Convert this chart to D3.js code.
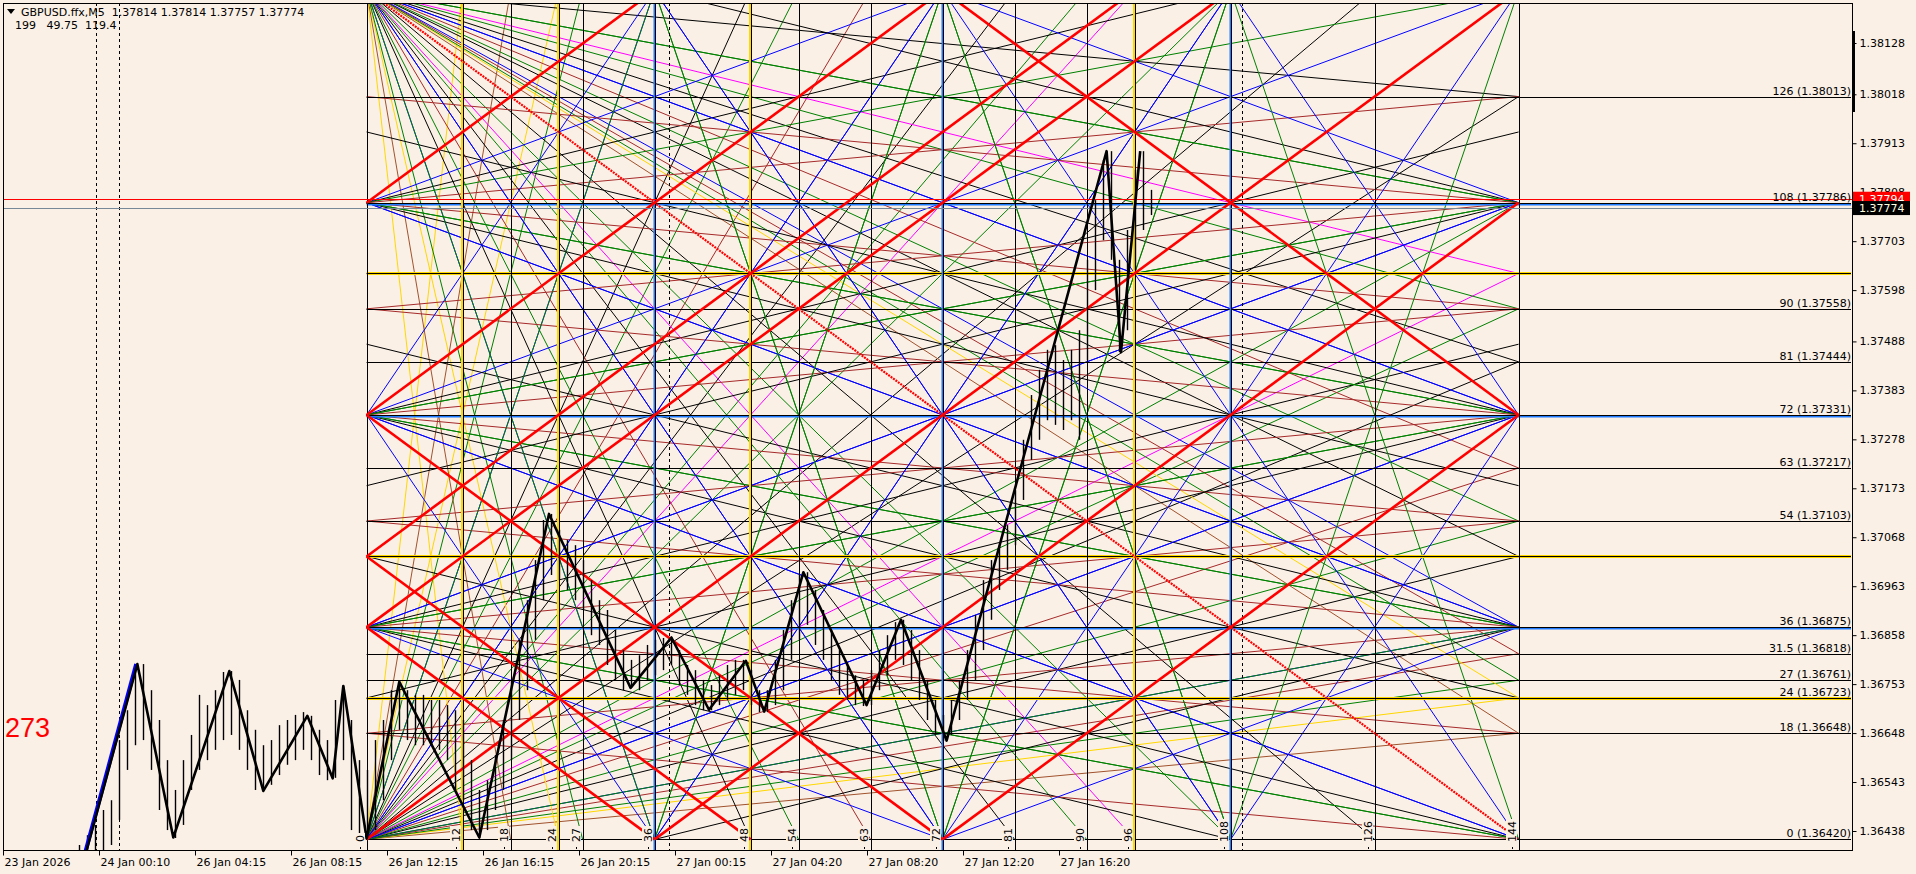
<!DOCTYPE html>
<html>
<head>
<meta charset="utf-8">
<script src="https://cdn.jsdelivr.net/npm/d3@7"></script>
<style>
  body { margin: 0; background: #faf0e6; }
  svg { display: block; font-family: "DejaVu Sans", sans-serif; }
</style>
</head>
<body>
<svg id="chart" width="1916" height="874"></svg>
<script>
// ---- header texts
const symbolInfo = "GBPUSD.ffx,M5  1.37814 1.37814 1.37757 1.37774";
const indicatorInfo = "199   49.75  119.4";
const cornerCount = "273";

// ---- price axis
const priceTicks = [1.38128, 1.38018, 1.37913, 1.37808, 1.37703, 1.37598, 1.37488, 1.37383,
  1.37278, 1.37173, 1.37068, 1.36963, 1.36858, 1.36753, 1.36648, 1.36543, 1.36438];
const askPrice = 1.37794, bidPrice = 1.37774;

// ---- time axis (x unit = one gann step = 4 bars of M5)
const timeTickPos = [-45.45, -33.45, -21.45, -9.45, 2.55, 14.55, 26.55, 38.55, 50.55, 62.55, 74.55, 86.55];
const timeTickLabels = ["23 Jan 2026", "24 Jan 00:10", "26 Jan 04:15", "26 Jan 08:15", "26 Jan 12:15",
  "26 Jan 16:15", "26 Jan 20:15", "27 Jan 00:15", "27 Jan 04:20", "27 Jan 08:20", "27 Jan 12:20", "27 Jan 16:20"];
const separatorTimes = [-33.8, -30.95, 37.8, 109.4];

// ---- gann square
const gannBase = 1.36420, gannStep = 0.000126431;
const gannLevels = [0, 18, 24, 27, 31.5, 36, 48, 54, 63, 72, 81, 90, 96, 108, 126, 144];
const labelledLevels = [0, 18, 24, 27, 31.5, 36, 54, 63, 72, 81, 90, 108, 126];
const labelledPrices = [1.36420, 1.36648, 1.36723, 1.36761, 1.36818, 1.36875, 1.37103, 1.37217,
  1.37331, 1.37444, 1.37558, 1.37786, 1.38013];
const gannTimes = [0, 12, 18, 24, 27, 36, 48, 54, 63, 72, 81, 90, 96, 108, 126, 144];
const yellowMarks = [12, 24, 48, 96];
const blueMarks = [36, 72, 108];

// 1x1 angles: level - time = c (rising) and level + time = c (falling)
const redRising = [108, 72, 48, 36, 0, -36, -72];
const redFalling = [36, 48, 72, 216];
const mainDiagonal = 144;

// fans
const denseFanOrigins = [[0, 0], [0, 144]];
const sideFanLevels = [36, 72, 108];
const rightFanLevels = [0, 36, 72, 108];
const edgeFanTimes = [36, 72, 108];
const shallowRatios = [1 / 2, 1 / 3, 1 / 4, 1 / 8];
const steepRatios = [2, 4];

// ---- price bars, one per gann step, first slot at t = -36
const barFirst = -36;
const barHigh = [1.36408, 1.36429, 1.36451, 1.36483, 1.36504, 1.36633, 1.36697, 1.36794, 1.36796, 1.36740,
  1.36676, 1.36590, 1.36526, 1.36590, 1.36644, 1.36730, 1.36708, 1.36740, 1.36779, 1.36781,
  1.36762, 1.36697, 1.36655, 1.36622, 1.36633, 1.36665, 1.36676, 1.36687, 1.36693, 1.36685,
  1.36655, 1.36633, 1.36719, 1.36749, 1.36676, 1.36590, 1.36569, 1.36633, 1.36676, 1.36740,
  1.36758, 1.36740, 1.36730, 1.36730, 1.36719, 1.36719, 1.36708, 1.36697, 1.36676, 1.36590,
  1.36526, 1.36547, 1.36601, 1.36676, 1.36762, 1.36848, 1.36933, 1.37019, 1.37105, 1.37118,
  1.37084, 1.37062, 1.37051, 1.37019, 1.36976, 1.36933, 1.36912, 1.36869, 1.36826, 1.36805,
  1.36815, 1.36837, 1.36848, 1.36852, 1.36854, 1.36826, 1.36794, 1.36783, 1.36762, 1.36751,
  1.36772, 1.36794, 1.36805, 1.36805, 1.36783, 1.36740, 1.36740, 1.36805, 1.36869, 1.36933,
  1.36987, 1.36993, 1.36955, 1.36912, 1.36869, 1.36826, 1.36794, 1.36772, 1.36762, 1.36783,
  1.36826, 1.36858, 1.36886, 1.36891, 1.36869, 1.36826, 1.36762, 1.36719, 1.36687, 1.36719,
  1.36762, 1.36826, 1.36901, 1.36976, 1.37019, 1.37051, 1.37094, 1.37169, 1.37277, 1.37373,
  1.37427, 1.37470, 1.37480, 1.37448, 1.37470, 1.37512, 1.37663, 1.37791, 1.37877, 1.37896,
  1.37663, 1.37727, 1.37856, 1.37896, 1.37813];
const barLow = [1.36354, 1.36354, 1.36386, 1.36397, 1.36408, 1.36462, 1.36569, 1.36622, 1.36633, 1.36569,
  1.36483, 1.36440, 1.36423, 1.36451, 1.36526, 1.36569, 1.36590, 1.36612, 1.36633, 1.36644,
  1.36612, 1.36569, 1.36526, 1.36524, 1.36537, 1.36558, 1.36580, 1.36590, 1.36612, 1.36590,
  1.36558, 1.36547, 1.36552, 1.36590, 1.36440, 1.36419, 1.36423, 1.36440, 1.36504, 1.36590,
  1.36655, 1.36633, 1.36622, 1.36622, 1.36622, 1.36612, 1.36590, 1.36526, 1.36504, 1.36440,
  1.36423, 1.36440, 1.36483, 1.36526, 1.36590, 1.36676, 1.36740, 1.36848, 1.36933, 1.36987,
  1.36976, 1.36955, 1.36933, 1.36912, 1.36858, 1.36837, 1.36794, 1.36762, 1.36740, 1.36745,
  1.36740, 1.36762, 1.36772, 1.36783, 1.36794, 1.36751, 1.36730, 1.36708, 1.36697, 1.36697,
  1.36708, 1.36719, 1.36730, 1.36740, 1.36708, 1.36693, 1.36693, 1.36708, 1.36740, 1.36805,
  1.36848, 1.36880, 1.36837, 1.36805, 1.36762, 1.36730, 1.36719, 1.36708, 1.36706, 1.36708,
  1.36740, 1.36772, 1.36805, 1.36794, 1.36762, 1.36719, 1.36676, 1.36644, 1.36631, 1.36644,
  1.36676, 1.36719, 1.36762, 1.36826, 1.36891, 1.36955, 1.36998, 1.37051, 1.37148, 1.37234,
  1.37277, 1.37319, 1.37309, 1.37298, 1.37319, 1.37277, 1.37448, 1.37598, 1.37705, 1.37663,
  1.37465, 1.37512, 1.37641, 1.37727, 1.37759];

// zigzag swing points [time, price]
const zigzag = [[-35.8, 1.36346], [-28.66, 1.36796], [-24.16, 1.36424], [-17.16, 1.36781], [-12.91, 1.36524],
  [-7.41, 1.36685], [-4.24, 1.36551], [-2.91, 1.36749], [0, 1.36422], [4.09, 1.36758], [14.09, 1.36424],
  [22.8, 1.37118], [33.0, 1.36745], [38.1, 1.36853], [42.8, 1.36698], [47.4, 1.36803], [49.7, 1.36694],
  [54.6, 1.36993], [62.5, 1.36708], [66.8, 1.36891], [72.5, 1.36632], [92.5, 1.37896], [94.3, 1.37465],
  [96.7, 1.37896]];
const zigzagBlue = [[-35.9, 1.36346], [-28.8, 1.36796]];

// ---- styles
const C = { bg: "#faf0e6", red: "#ff0000", blue: "#0000ff", gold: "#ffd700", green: "#008000",
  sienna: "#a0522d", brown: "#a52a2a", magenta: "#ff00ff", black: "#000000" };
const denseColor = { 12: C.gold, 18: C.sienna, 24: C.gold, 27: C.green, 31.5: C.brown, 36: C.blue,
  48: C.black, 54: C.green, 63: C.brown, 72: C.blue, 81: C.black, 90: C.green, 96: C.magenta,
  108: C.green, 126: C.black };
const shallowColor = [C.blue, C.black, C.green, C.brown];
const steepColor = [C.blue, C.green];

const svg = d3.select("#chart");
const plot = { left: 3, top: 3, right: 1852, bottom: 850 };

const x = d3.scaleLinear().domain([0, 144]).range([366.6, 1518.6]);
const y = d3.scaleLinear().domain([1.36438, 1.38128]).range([831, 43]);
const ly = L => y(gannBase + L * gannStep);

svg.append("rect").attr("width", 1916).attr("height", 874).attr("fill", C.bg);
svg.append("clipPath").attr("id", "plotClip").append("rect")
  .attr("x", plot.left).attr("y", plot.top)
  .attr("width", plot.right - plot.left).attr("height", plot.bottom - plot.top);

const g = svg.append("g").attr("clip-path", "url(#plotClip)");

// ---- build fan segments in gann units
function rayEnd(t0, L0, dt, dL) {
  let s = Infinity;
  if (dt > 0) s = Math.min(s, (144 - t0) / dt);
  if (dt < 0) s = Math.min(s, -t0 / dt);
  if (dL > 0) s = Math.min(s, (144 - L0) / dL);
  if (dL < 0) s = Math.min(s, -L0 / dL);
  return [t0 + s * dt, L0 + s * dL];
}

const thin = [];
denseFanOrigins.forEach(([t0, L0]) => {
  const lOther = 144 - L0;
  gannLevels.filter(v => v > 0 && v < 144).forEach(v => {
    thin.push({ a: [t0, L0], b: [144, v], c: denseColor[v] });
  });
  gannTimes.filter(v => v > 0 && v < 144).forEach(v => {
    thin.push({ a: [t0, L0], b: [v, lOther], c: denseColor[v] });
  });
});
sideFanLevels.forEach(L0 => {
  shallowRatios.forEach((r, i) => {
    [1, -1].forEach(sg => thin.push({ a: [0, L0], b: rayEnd(0, L0, 1, sg * r), c: shallowColor[i] }));
  });
});
rightFanLevels.forEach(L0 => {
  shallowRatios.forEach((r, i) => {
    [1, -1].forEach(sg => {
      const b = rayEnd(144, L0, -1, sg * r);
      if (b[0] < 144) thin.push({ a: [144, L0], b, c: shallowColor[i] });
    });
  });
});
[[0, 1], [144, -1]].forEach(([L0, dir]) => {
  edgeFanTimes.forEach(t0 => {
    steepRatios.forEach((r, i) => {
      [1, -1].forEach(sg => thin.push({ a: [t0, L0], b: rayEnd(t0, L0, sg, dir * r), c: steepColor[i] }));
    });
  });
});

g.append("g").selectAll("line").data(thin).join("line")
  .attr("x1", d => x(d.a[0])).attr("y1", d => ly(d.a[1]))
  .attr("x2", d => x(d.b[0])).attr("y2", d => ly(d.b[1]))
  .attr("stroke", d => d.c).attr("stroke-width", 1);

// ---- horizontal gann levels
const hl = g.append("g");
gannLevels.forEach(L => {
  const yy = Math.round(ly(L)) + 0.5;
  if (yellowMarks.includes(L)) {
    hl.append("line").attr("x1", x(0)).attr("x2", plot.right - 1).attr("y1", yy).attr("y2", yy)
      .attr("stroke", C.gold).attr("stroke-width", 3);
  } else if (blueMarks.includes(L)) {
    hl.append("line").attr("x1", x(0)).attr("x2", plot.right - 1).attr("y1", yy + 1).attr("y2", yy + 1)
      .attr("stroke", "#1e7bff").attr("stroke-width", 2);
  }
  hl.append("line").attr("x1", x(0)).attr("x2", plot.right - 1).attr("y1", yy).attr("y2", yy)
    .attr("stroke", C.black).attr("stroke-width", 1);
});

// ---- vertical gann times
const vl = g.append("g");
gannTimes.forEach(t => {
  const xx = Math.round(x(t)) + 0.5;
  if (yellowMarks.includes(t)) {
    vl.append("line").attr("x1", xx - 1).attr("x2", xx - 1).attr("y1", plot.top).attr("y2", plot.bottom)
      .attr("stroke", C.gold).attr("stroke-width", 3);
  } else if (blueMarks.includes(t)) {
    vl.append("line").attr("x1", xx - 1).attr("x2", xx - 1).attr("y1", plot.top).attr("y2", plot.bottom)
      .attr("stroke", "#1e7bff").attr("stroke-width", 2);
  }
  vl.append("line").attr("x1", xx).attr("x2", xx).attr("y1", plot.top).attr("y2", plot.bottom)
    .attr("stroke", C.black).attr("stroke-width", 1);
});

// ---- period separators
g.append("g").selectAll("line").data(separatorTimes).join("line")
  .attr("x1", d => Math.round(x(d)) + 0.5).attr("x2", d => Math.round(x(d)) + 0.5)
  .attr("y1", plot.top).attr("y2", plot.bottom)
  .attr("stroke", C.black).attr("stroke-dasharray", "3,3");

// ---- red 1x1 lattice
const reds = [];
redRising.forEach(c => reds.push({ a: [Math.max(0, -c), Math.max(0, -c) + c], b: [Math.min(144, 144 - c), Math.min(144, 144 - c) + c] }));
redFalling.forEach(c => reds.push({ a: [Math.max(0, c - 144), c - Math.max(0, c - 144)], b: [Math.min(144, c), c - Math.min(144, c)] }));
g.append("g").selectAll("line").data(reds).join("line")
  .attr("x1", d => x(d.a[0])).attr("y1", d => ly(d.a[1]))
  .attr("x2", d => x(d.b[0])).attr("y2", d => ly(d.b[1]))
  .attr("stroke", C.red).attr("stroke-width", 2.6);
g.append("line")
  .attr("x1", x(0)).attr("y1", ly(mainDiagonal)).attr("x2", x(mainDiagonal)).attr("y2", ly(0))
  .attr("stroke", C.red).attr("stroke-width", 2.2).attr("stroke-dasharray", "2,1");

// ---- ask / bid lines
g.append("line").attr("x1", plot.left).attr("x2", plot.right).attr("y1", Math.round(y(askPrice)) + 0.5)
  .attr("y2", Math.round(y(askPrice)) + 0.5).attr("stroke", C.red);
g.append("line").attr("x1", plot.left).attr("x2", plot.right).attr("y1", Math.round(y(bidPrice)) + 0.5)
  .attr("y2", Math.round(y(bidPrice)) + 0.5).attr("stroke", "#778899");

// ---- price bars
const bars = barHigh.map((h, i) => ({ t: barFirst + i, h, l: barLow[i] }));
g.append("g").selectAll("line").data(bars).join("line")
  .attr("x1", d => Math.round(x(d.t)) + 0.5).attr("x2", d => Math.round(x(d.t)) + 0.5)
  .attr("y1", d => y(d.h)).attr("y2", d => y(d.l))
  .attr("stroke", C.black).attr("stroke-width", 1.4);

// ---- zigzag
const zz = d3.line().x(d => x(d[0])).y(d => y(d[1]));
g.append("path").attr("d", zz(zigzagBlue)).attr("fill", "none").attr("stroke", C.blue).attr("stroke-width", 4);
g.append("path").attr("d", zz(zigzag)).attr("fill", "none").attr("stroke", C.black)
  .attr("stroke-width", 2.6).attr("stroke-linejoin", "round");

// ---- time labels on the gann verticals
const tl = g.append("g").attr("font-size", 11);
gannTimes.forEach(t => {
  const xx = Math.round(x(t));
  const txt = tl.append("g").attr("transform", `translate(${xx - 3},842) rotate(-90)`);
  const label = String(t);
  const len = label.length * 7;
  txt.append("rect").attr("x", -2).attr("y", -10).attr("width", len + 4).attr("height", 11).attr("fill", C.bg);
  txt.append("text").attr("x", 0).attr("y", 0).text(label);
  tl.append("rect").attr("x", xx - 7).attr("y", 847).attr("width", 1).attr("height", 2).attr("fill", C.black);
});

// ---- level labels at right
g.append("g").attr("font-size", 11).attr("text-anchor", "end")
  .selectAll("text").data(labelledLevels).join("text")
  .attr("x", plot.right - 1).attr("y", d => Math.round(ly(d)) - 2)
  .text((d, i) => `${d} (${labelledPrices[i].toFixed(5)})`);

// ---- corner texts
svg.append("path").attr("d", "M7,9 L15,9 L11,14 Z").attr("fill", C.black);
svg.append("text").attr("x", 21).attr("y", 16).attr("font-size", 11).attr("xml:space", "preserve").text(symbolInfo);
svg.append("text").attr("x", 15).attr("y", 29).attr("font-size", 11).attr("xml:space", "preserve").text(indicatorInfo);
svg.append("text").attr("x", 5).attr("y", 737).attr("font-size", 27)
  .attr("font-family", "'Liberation Sans', Arial, sans-serif").attr("fill", C.red).text(cornerCount);

// ---- frame
svg.append("rect").attr("x", plot.left + 0.5).attr("y", plot.top + 0.5)
  .attr("width", plot.right - plot.left).attr("height", plot.bottom - plot.top)
  .attr("fill", "none").attr("stroke", C.black);

// ---- axes
const yAxis = svg.append("g").attr("transform", `translate(${plot.right + 0.5},0)`)
  .call(d3.axisRight(y).tickValues(priceTicks).tickFormat(d3.format(".5f")).tickSize(4))
  .attr("font-family", "DejaVu Sans").attr("font-size", 11);
yAxis.select(".domain").remove();

const xAxis = svg.append("g").attr("transform", `translate(0,${plot.bottom + 0.5})`)
  .call(d3.axisBottom(x).tickValues(timeTickPos).tickFormat((d, i) => timeTickLabels[i]).tickSize(5))
  .attr("font-family", "DejaVu Sans").attr("font-size", 11);
xAxis.select(".domain").remove();
xAxis.selectAll(".tick text").attr("text-anchor", "start").attr("x", 1);

// ---- price scale marks
svg.append("rect").attr("x", plot.right).attr("y", 31).attr("width", 3).attr("height", 81).attr("fill", C.black);
const askY = y(askPrice), bidY = y(bidPrice);
svg.append("rect").attr("x", plot.right + 1).attr("y", askY - 7).attr("width", 57).attr("height", 13).attr("fill", C.red);
svg.append("text").attr("x", plot.right + 7).attr("y", askY + 4).attr("font-size", 11).attr("fill", "#fff").text(askPrice.toFixed(5));
svg.append("rect").attr("x", plot.right + 1).attr("y", bidY - 7).attr("width", 57).attr("height", 14).attr("fill", C.black);
svg.append("text").attr("x", plot.right + 7).attr("y", bidY + 4).attr("font-size", 11).attr("fill", "#ffffe0").text(bidPrice.toFixed(5));
</script>
</body>
</html>
